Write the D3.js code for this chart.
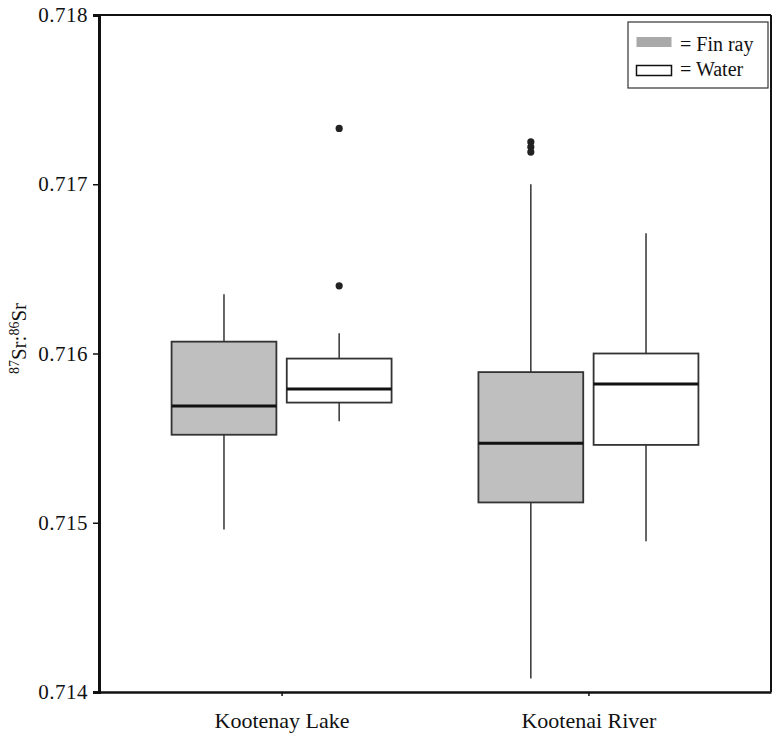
<!DOCTYPE html>
<html>
<head>
<meta charset="utf-8">
<script src="https://cdn.jsdelivr.net/npm/d3@7"></script>
<style>
    body { margin: 0; background: #fff; }
    #chart-container { width: 780px; height: 741px; }
    svg text { font-family: 'Liberation Serif', serif; fill: #111; }
</style>
</head>
<body>
<div id="chart-container"></div>
<script>
// boxes: [lower whisker, Q1, median, Q3, upper whisker]
const sites = ["Kootenay Lake", "Kootenai River"];
const sampleTypes = ["Fin ray", "Water"];
const finRayBoxes = [
    [0.71496, 0.71552, 0.71569, 0.71607, 0.71635],
    [0.71408, 0.71512, 0.71547, 0.71589, 0.71700]
];
const waterBoxes = [
    [0.71560, 0.71571, 0.71579, 0.71597, 0.71612],
    [0.71489, 0.71546, 0.71582, 0.71600, 0.71671]
];
const finRayOutliers = [[], [0.71725, 0.71722, 0.71719]];
const waterOutliers = [[0.71733, 0.71640], []];
const yTicks = [0.714, 0.715, 0.716, 0.717, 0.718];

const fills = { "Fin ray": "#bfbfbf", "Water": "#ffffff" };

let margin = { top: 15, right: 9, bottom: 49, left: 99 };
let width = 780 - margin.left - margin.right;
let height = 741 - margin.top - margin.bottom;

const svg = d3.select("#chart-container")
    .append("svg")
    .attr("width", 780)
    .attr("height", 741)
    .append("g")
    .attr("transform", `translate(${margin.left},${margin.top})`);

const xScale = d3.scalePoint()
    .domain(sites)
    .range([0, width])
    .padding(0.595);

const subScale = d3.scaleBand()
    .domain(sampleTypes)
    .range([-110, 110])
    .paddingInner(0.09);

const yScale = d3.scaleLinear()
    .domain([0.714, 0.718])
    .range([height, 0]);

// frame (top and right)
svg.append("line")
    .attr("x1", 0).attr("x2", width)
    .attr("y1", 0).attr("y2", 0)
    .style("stroke", "#111").style("stroke-width", 2);
svg.append("line")
    .attr("x1", width).attr("x2", width)
    .attr("y1", 0).attr("y2", height)
    .style("stroke", "#111").style("stroke-width", 2);

// axes
const yAxis = svg.append("g")
    .call(d3.axisLeft(yScale)
        .tickValues(yTicks)
        .tickSize(6)
        .tickPadding(5)
        .tickFormat(d3.format(".3f")))
    .attr("font-family", "Liberation Serif")
    .attr("font-size", 21);
yAxis.select(".domain").style("stroke", "#111").style("stroke-width", 3);
yAxis.selectAll(".tick line").style("stroke", "#111").style("stroke-width", 1.5);
yAxis.selectAll("text").style("letter-spacing", "0.5px");

const xAxis = svg.append("g")
    .attr("transform", `translate(0,${height})`)
    .call(d3.axisBottom(xScale).tickSize(4).tickPadding(16).tickSizeOuter(0))
    .attr("font-family", "Liberation Serif")
    .attr("font-size", 22);
xAxis.select(".domain").style("stroke", "#111").style("stroke-width", 2.5);
xAxis.selectAll(".tick line").style("stroke", "#111").style("stroke-width", 1.5);

// y axis title
const yLabel = svg.append("text")
    .attr("transform", `translate(${26 - margin.left},${height / 2 - 15}) rotate(-90)`)
    .attr("text-anchor", "middle")
    .style("font-size", "21px");
yLabel.append("tspan").style("font-size", "14px").attr("baseline-shift", "super").text("87");
yLabel.append("tspan").text("Sr:");
yLabel.append("tspan").style("font-size", "14px").attr("baseline-shift", "super").text("86");
yLabel.append("tspan").text("Sr");

// box plots
function drawBoxes(boxes, outliers, type) {
    const bw = subScale.bandwidth();
    boxes.forEach((b, i) => {
        const x0 = xScale(sites[i]) + subScale(type);
        const cx = x0 + bw / 2;
        const g = svg.append("g").attr("class", "box");

        g.append("line")
            .attr("x1", cx).attr("x2", cx)
            .attr("y1", yScale(b[0])).attr("y2", yScale(b[1]))
            .style("stroke", "#333").style("stroke-width", 1.5);
        g.append("line")
            .attr("x1", cx).attr("x2", cx)
            .attr("y1", yScale(b[3])).attr("y2", yScale(b[4]))
            .style("stroke", "#333").style("stroke-width", 1.5);

        g.append("rect")
            .attr("x", x0)
            .attr("width", bw)
            .attr("y", yScale(b[3]))
            .attr("height", yScale(b[1]) - yScale(b[3]))
            .style("fill", fills[type])
            .style("stroke", "#333")
            .style("stroke-width", 1.8);

        g.append("line")
            .attr("x1", x0).attr("x2", x0 + bw)
            .attr("y1", yScale(b[2])).attr("y2", yScale(b[2]))
            .style("stroke", "#111").style("stroke-width", 3);

        g.selectAll(".outlier")
            .data(outliers[i])
            .enter()
            .append("circle")
            .attr("class", "outlier")
            .attr("cx", cx)
            .attr("cy", d => yScale(d))
            .attr("r", 3.6)
            .style("fill", "#222");
    });
}

drawBoxes(finRayBoxes, finRayOutliers, "Fin ray");
drawBoxes(waterBoxes, waterOutliers, "Water");

// legend
const legend = svg.append("g")
    .attr("transform", `translate(${width - 143},7)`);
legend.append("rect")
    .attr("width", 140).attr("height", 66)
    .style("fill", "#fff")
    .style("stroke", "#333")
    .style("stroke-width", 1.2);
sampleTypes.forEach((t, i) => {
    legend.append("rect")
        .attr("x", 8.5).attr("y", 15 + i * 28.5)
        .attr("width", 35).attr("height", 10)
        .style("fill", t === "Fin ray" ? "#a9a9a9" : "#fff")
        .style("stroke", t === "Fin ray" ? "none" : "#111")
        .style("stroke-width", 1.5);
    legend.append("text")
        .attr("x", 52).attr("y", 29 + i * 25)
        .style("font-size", "20px")
        .text("= " + t);
});
</script>
</body>
</html>
